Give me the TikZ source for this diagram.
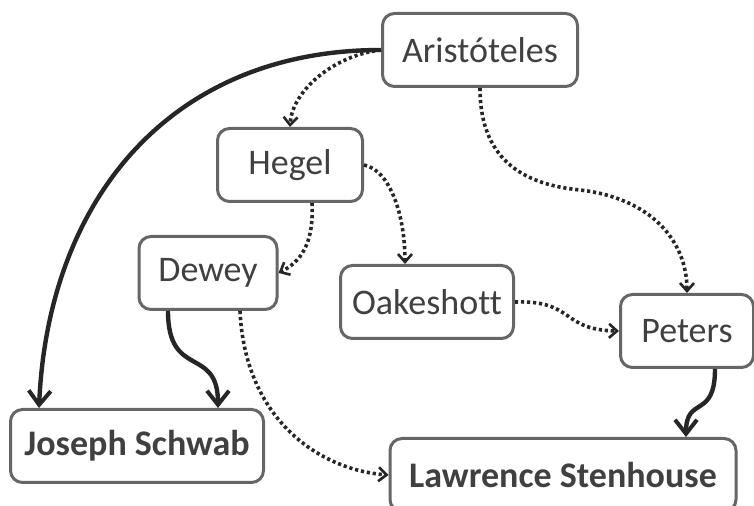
\documentclass[tikz,border=0pt]{standalone}
\usepackage{fontspec}
\setmainfont{Carlito}[Ligatures={NoCommon}]
\usetikzlibrary{arrows.meta}
\definecolor{boxgray}{HTML}{666666}
\definecolor{txtgray}{HTML}{404040}
\definecolor{linegray}{HTML}{262626}

\begin{document}
\begin{tikzpicture}[x=0.5pt,y=-0.5pt,
  box/.style={draw=boxgray,line width=1.5pt,rounded corners=6pt,fill=white,
    text=txtgray,minimum height=36.5pt,font=\fontsize{18}{21}\selectfont},
  strong/.style={line width=2.2pt,draw=linegray,-{Straight Barb[length=7pt,width=11pt,line width=2pt]}},
  weak/.style={line width=1.8pt,draw=linegray,dash pattern=on 1.6pt off 1.4pt,
    -{Straight Barb[length=4pt,width=7pt,line width=1.3pt]}}]
\clip (0,0) rectangle (754,506);
\begin{scope}[nodes={box}] % all boxes share one look
\node [minimum width=97.5pt] (arist) at (480,50) {Aristóteles};
\node [minimum width=72.5pt] (hegel) at (290,165) {Hegel};
\node [minimum width=69pt] (dewey) at (208,273) {Dewey};
\node [minimum width=86.5pt] (oakes) at (427,302) {Oakeshott};
\node [minimum width=66.5pt] (peters) at (687,331) {Peters};
\node [minimum width=126.5pt,font=\fontsize{18}{21}\selectfont\bfseries] (schwab) at (137,446) {Joseph Schwab};
\node [minimum width=173pt,font=\fontsize{18}{21}\selectfont\bfseries] (stenh) at (563,475) {Lawrence Stenhouse};
\end{scope}
\draw [strong] (arist.west) .. controls (170,50) and (48,200) .. ([xshift=15pt]schwab.north west);
\draw [weak] (arist.west) .. controls (335,55) and (292,90) .. (hegel.north);
\draw [weak] (arist.south) .. controls (480,165) and (530,185) .. (580,190)
  .. controls (650,198) and (687,240) .. (peters.north);
\draw [weak] (hegel.east) .. controls (390,170) and (405,215) .. ([xshift=-11pt]oakes.north);
\draw [weak] ([xshift=11pt]hegel.south) .. controls (314,245) and (300,262) .. (dewey.east);
\draw [weak] ([xshift=16pt]dewey.south) .. controls (245,420) and (320,470) .. (stenh.west);
\draw [strong] ([xshift=-20pt]dewey.south) .. controls (168,380) and (218,345) .. ([xshift=40.5pt]schwab.north);
\draw [weak] (oakes.east) .. controls (575,300) and (560,330) .. (peters.west);
\draw [strong] ([xshift=14pt]peters.south) .. controls (715,420) and (686,395) .. ([xshift=61.5pt]stenh.north);
\end{tikzpicture}
\end{document}
